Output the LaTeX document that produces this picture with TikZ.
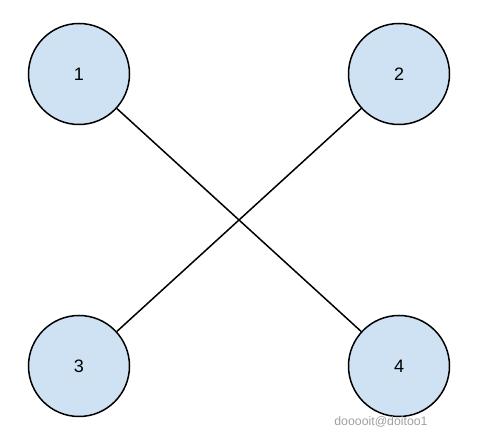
\documentclass[tikz,border=0pt]{standalone}
\usepackage{fontspec}
\setmainfont{Liberation Sans}
\definecolor{nodefill}{RGB}{207,226,243}
\definecolor{wmgray}{RGB}{160,160,160}
\begin{document}
\begin{tikzpicture}[x=1pt,y=1pt,
  circ/.style={circle,draw=black,line width=1.5pt,fill=nodefill,minimum size=101pt,inner sep=0pt,font=\fontsize{18}{21}\selectfont},
  conn/.style={line width=1.5pt,draw=black}]
\useasboundingbox (0,0) rectangle (479,435);
\node[circ] (n1) at (79,361) {1};
\node[circ] (n2) at (399,361) {2};
\node[circ] (n3) at (79,69) {3};
\node[circ] (n4) at (399,69) {4};
\draw[conn] (n1) -- (n4);
\draw[conn] (n2) -- (n3);
\node[text=wmgray,font=\fontsize{12.3}{14}\selectfont,anchor=center] (wm) at (381,13) {dooooit@doitoo1};
\end{tikzpicture}
\end{document}
